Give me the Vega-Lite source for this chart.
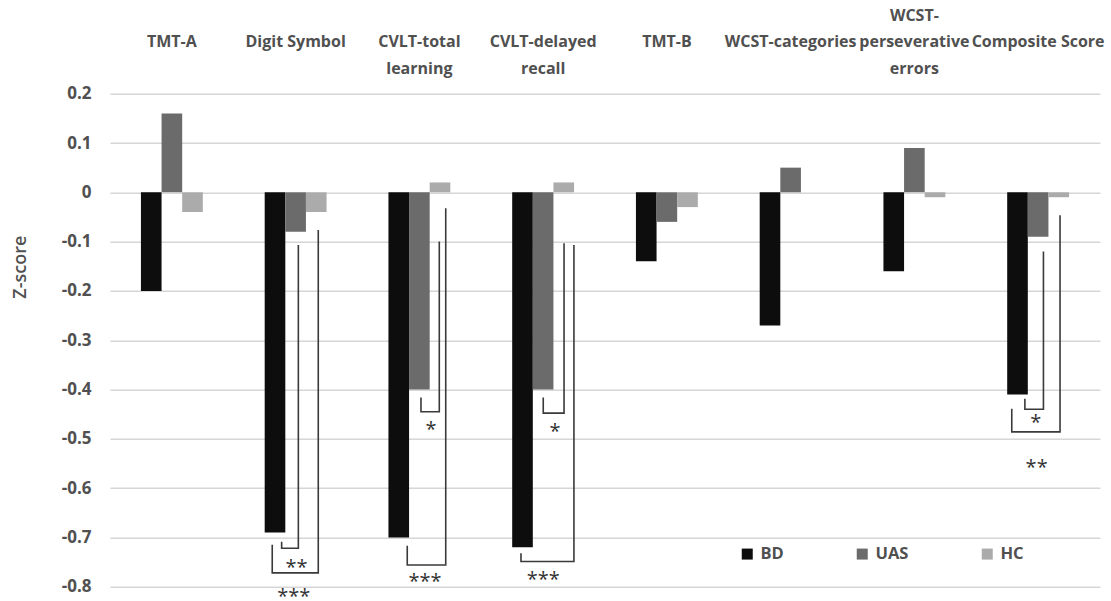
{
  "$schema": "https://vega.github.io/schema/vega-lite/v6.json",
  "width": 990,
  "height": 493,
  "autosize": {"type": "none"},
  "padding": {"left": 110, "top": 93.7, "right": 11, "bottom": 14.3},
  "background": "white",
  "config": {"view": {"stroke": null}, "font": "Open Sans"},
  "datasets": {
    "bars": [
      {"test": "TMT-A", "group": "BD", "z": -0.20},
      {"test": "TMT-A", "group": "UAS", "z": 0.16},
      {"test": "TMT-A", "group": "HC", "z": -0.04},
      {"test": "Digit Symbol", "group": "BD", "z": -0.69},
      {"test": "Digit Symbol", "group": "UAS", "z": -0.08},
      {"test": "Digit Symbol", "group": "HC", "z": -0.04},
      {"test": "CVLT-total learning", "group": "BD", "z": -0.70},
      {"test": "CVLT-total learning", "group": "UAS", "z": -0.40},
      {"test": "CVLT-total learning", "group": "HC", "z": 0.02},
      {"test": "CVLT-delayed recall", "group": "BD", "z": -0.72},
      {"test": "CVLT-delayed recall", "group": "UAS", "z": -0.40},
      {"test": "CVLT-delayed recall", "group": "HC", "z": 0.02},
      {"test": "TMT-B", "group": "BD", "z": -0.14},
      {"test": "TMT-B", "group": "UAS", "z": -0.06},
      {"test": "TMT-B", "group": "HC", "z": -0.03},
      {"test": "WCST-categories", "group": "BD", "z": -0.27},
      {"test": "WCST-categories", "group": "UAS", "z": 0.05},
      {"test": "WCST-categories", "group": "HC", "z": 0.0},
      {"test": "WCST-perseverative errors", "group": "BD", "z": -0.16},
      {"test": "WCST-perseverative errors", "group": "UAS", "z": 0.09},
      {"test": "WCST-perseverative errors", "group": "HC", "z": -0.01},
      {"test": "Composite Score", "group": "BD", "z": -0.41},
      {"test": "Composite Score", "group": "UAS", "z": -0.09},
      {"test": "Composite Score", "group": "HC", "z": -0.01}
    ],
    "brackets": [
      {"b": "DS1", "s": 1, "u": 1.387, "z": -0.709},
      {"b": "DS1", "s": 2, "u": 1.387, "z": -0.722},
      {"b": "DS1", "s": 3, "u": 1.522, "z": -0.722},
      {"b": "DS1", "s": 4, "u": 1.522, "z": -0.107},
      {"b": "DS2", "s": 1, "u": 1.311, "z": -0.715},
      {"b": "DS2", "s": 2, "u": 1.311, "z": -0.772},
      {"b": "DS2", "s": 3, "u": 1.683, "z": -0.772},
      {"b": "DS2", "s": 4, "u": 1.683, "z": -0.0765},
      {"b": "CT1", "s": 1, "u": 2.513, "z": -0.416},
      {"b": "CT1", "s": 2, "u": 2.513, "z": -0.445},
      {"b": "CT1", "s": 3, "u": 2.661, "z": -0.445},
      {"b": "CT1", "s": 4, "u": 2.661, "z": -0.100},
      {"b": "CT2", "s": 1, "u": 2.402, "z": -0.717},
      {"b": "CT2", "s": 2, "u": 2.402, "z": -0.756},
      {"b": "CT2", "s": 3, "u": 2.713, "z": -0.756},
      {"b": "CT2", "s": 4, "u": 2.713, "z": -0.0325},
      {"b": "CD1", "s": 1, "u": 3.501, "z": -0.416},
      {"b": "CD1", "s": 2, "u": 3.501, "z": -0.448},
      {"b": "CD1", "s": 3, "u": 3.669, "z": -0.448},
      {"b": "CD1", "s": 4, "u": 3.669, "z": -0.1035},
      {"b": "CD2", "s": 1, "u": 3.321, "z": -0.732},
      {"b": "CD2", "s": 2, "u": 3.321, "z": -0.749},
      {"b": "CD2", "s": 3, "u": 3.749, "z": -0.749},
      {"b": "CD2", "s": 4, "u": 3.749, "z": -0.107},
      {"b": "CS1", "s": 1, "u": 7.393, "z": -0.419},
      {"b": "CS1", "s": 2, "u": 7.393, "z": -0.440},
      {"b": "CS1", "s": 3, "u": 7.543, "z": -0.440},
      {"b": "CS1", "s": 4, "u": 7.543, "z": -0.120},
      {"b": "CS2", "s": 1, "u": 7.287, "z": -0.439},
      {"b": "CS2", "s": 2, "u": 7.287, "z": -0.486},
      {"b": "CS2", "s": 3, "u": 7.677, "z": -0.486},
      {"b": "CS2", "s": 4, "u": 7.677, "z": -0.0468}
    ],
    "stars": [
      {"label": "**", "u": 1.508, "z": -0.759},
      {"label": "***", "u": 1.485, "z": -0.817},
      {"label": "*", "u": 2.594, "z": -0.479},
      {"label": "***", "u": 2.545, "z": -0.786},
      {"label": "*", "u": 3.596, "z": -0.482},
      {"label": "***", "u": 3.501, "z": -0.783},
      {"label": "*", "u": 7.480, "z": -0.464},
      {"label": "**", "u": 7.488, "z": -0.556}
    ]
  },
  "layer": [
    {
      "data": {"name": "bars"},
      "mark": {"type": "bar"},
      "encoding": {
        "x": {
          "field": "test",
          "type": "nominal",
          "sort": null,
          "scale": {"paddingInner": 0.5, "paddingOuter": 0.25},
          "axis": {
            "orient": "top",
            "title": null,
            "domain": false,
            "ticks": false,
            "grid": false,
            "labelAngle": 0,
            "labelOverlap": false,
            "labelLimit": 300,
            "labelFont": "Open Sans",
            "labelFontSize": 16,
            "labelFontWeight": "bold",
            "labelColor": "#505050",
            "labelPadding": 70.5,
            "labelLineHeight": 26.5,
            "labelBaseline": "bottom",
            "labelExpr": "datum.value == 'CVLT-total learning' ? ['', 'CVLT-total', 'learning'] : datum.value == 'CVLT-delayed recall' ? ['', 'CVLT-delayed', 'recall'] : datum.value == 'WCST-perseverative errors' ? ['WCST-', 'perseverative', 'errors'] : ['', '', datum.value]"
          }
        },
        "xOffset": {
          "field": "group",
          "type": "nominal",
          "sort": ["BD", "UAS", "HC"],
          "scale": {"paddingInner": 0, "paddingOuter": 0}
        },
        "y": {
          "field": "z",
          "type": "quantitative",
          "title": "Z-score",
          "scale": {"domain": [-0.8, 0.2], "nice": false, "zero": false},
          "axis": {
            "values": [-0.8, -0.7, -0.6, -0.5, -0.4, -0.3, -0.2, -0.1, 0, 0.1, 0.2],
            "labelExpr": "round(datum.value * 10) / 10 + ''",
            "domain": false,
            "ticks": false,
            "grid": true,
            "gridColor": "#d6d6d6",
            "gridWidth": 1.6,
            "labelFont": "Open Sans",
            "labelFontSize": 17,
            "labelFontWeight": "bold",
            "labelColor": "#505050",
            "labelPadding": 19,
            "titleFont": "Open Sans",
            "titleFontSize": 18,
            "titleFontWeight": 600,
            "titleColor": "#505050",
            "titleAngle": 270,
            "titleBaseline": "middle",
            "titleAlign": "center",
            "titleX": -90,
            "titleY": 173
          }
        },
        "color": {
          "field": "group",
          "type": "nominal",
          "scale": {"domain": ["BD", "UAS", "HC"], "range": ["#0d0d0d", "#6b6b6b", "#ababab"]},
          "legend": {
            "title": null,
            "orient": "none",
            "direction": "horizontal",
            "legendX": 629,
            "legendY": 452,
            "symbolType": "square",
            "symbolSize": 121,
            "symbolStrokeWidth": 0,
            "columnPadding": 70,
            "labelOffset": 5,
            "labelFont": "Open Sans",
            "labelFontSize": 16.5,
            "labelFontWeight": "bold",
            "labelColor": "#505050"
          }
        }
      }
    },
    {
      "data": {"name": "brackets"},
      "mark": {"type": "line", "color": "#3a3a3a", "strokeWidth": 1.6, "strokeJoin": "miter", "strokeCap": "butt"},
      "encoding": {
        "x": {"field": "u", "type": "quantitative", "scale": {"domain": [0, 8], "nice": false, "zero": false}, "axis": null},
        "y": {"field": "z", "type": "quantitative", "title": "Z-score"},
        "detail": {"field": "b", "type": "nominal"},
        "order": {"field": "s", "type": "quantitative"}
      }
    },
    {
      "data": {"name": "stars"},
      "mark": {"type": "text", "font": "Open Sans", "fontSize": 20, "color": "#333333", "baseline": "middle", "dy": 2},
      "encoding": {
        "x": {"field": "u", "type": "quantitative", "scale": {"domain": [0, 8], "nice": false, "zero": false}, "axis": null},
        "y": {"field": "z", "type": "quantitative", "title": "Z-score"},
        "text": {"field": "label", "type": "nominal"}
      }
    }
  ],
  "resolve": {"scale": {"x": "independent"}}
}
